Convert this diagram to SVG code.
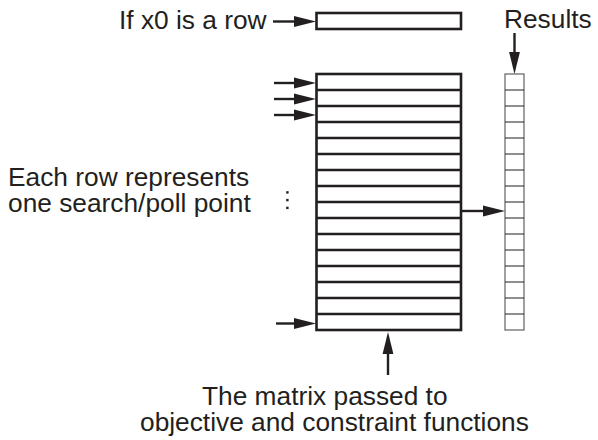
<svg xmlns="http://www.w3.org/2000/svg" width="598" height="440" viewBox="0 0 598 440">
<style>
.t{font-family:"Liberation Sans",Arial,Helvetica,sans-serif;font-size:26.3px;fill:#231f20}
.m{fill:#fff;stroke:#231f20;stroke-width:2.6}
.ml{stroke:#231f20;stroke-width:2.6}
.rc{fill:#fff;stroke:#6d6e71;stroke-width:1.3}
.rl{stroke:#231f20;stroke-width:1.2}
.ar{stroke:#231f20;stroke-width:2.4;fill:none}
</style>
<defs>
<marker id="ah" markerUnits="userSpaceOnUse" markerWidth="22" markerHeight="12" refX="0" refY="6" orient="auto">
<path d="M0,0.6 L22,6 L0,11.4 z" fill="#231f20"/>
</marker>
</defs>
<rect width="598" height="440" fill="#fff"/>
<g id="x0row">
<rect class="m" x="316.5" y="13" width="144.5" height="16"/>
</g>
<g id="matrix">
<rect class="m" x="316.5" y="74" width="144.5" height="256"/>
<path class="ml" d="M316.5,90H461M316.5,106H461M316.5,122H461M316.5,138H461M316.5,154H461M316.5,170H461M316.5,186H461M316.5,202H461M316.5,218H461M316.5,234H461M316.5,250H461M316.5,266H461M316.5,282H461M316.5,298H461M316.5,314H461"/>
</g>
<g id="results">
<rect class="rc" x="505" y="74" width="19" height="256"/>
<path class="rl" d="M505,90H524M505,106H524M505,122H524M505,138H524M505,154H524M505,170H524M505,186H524M505,202H524M505,218H524M505,234H524M505,250H524M505,266H524M505,282H524M505,298H524M505,314H524"/>
</g>
<g id="dots" fill="#231f20">
<rect x="286.2" y="191.2" width="2.4" height="2.4"/>
<rect x="286.2" y="198.9" width="2.4" height="2.4"/>
<rect x="286.2" y="206.7" width="2.4" height="2.4"/>
</g>
<g id="connectors">
<path class="ar" d="M273,21.5H294" marker-end="url(#ah)"/>
<path class="ar" d="M274,83H294" marker-end="url(#ah)"/>
<path class="ar" d="M274,99H294" marker-end="url(#ah)"/>
<path class="ar" d="M274,115H294" marker-end="url(#ah)"/>
<path class="ar" d="M276,323.5H294" marker-end="url(#ah)"/>
<path class="ar" d="M461,211H483" marker-end="url(#ah)"/>
<path class="ar" d="M388,375V354" marker-end="url(#ah)"/>
<path class="ar" d="M514.5,33V52" marker-end="url(#ah)"/>
</g>
<g id="label-x0">
<text class="t" x="119" y="29">If x0 is a row</text>
</g>
<g id="label-results">
<text class="t" x="504" y="28.3">Results</text>
</g>
<g id="label-each">
<text class="t" x="8" y="186">Each row represents</text>
<text class="t" x="8" y="212">one search/poll point</text>
</g>
<g id="label-matrix">
<text class="t" x="202" y="405">The matrix passed to</text>
<text class="t" x="140" y="431">objective and constraint functions</text>
</g>
</svg>
